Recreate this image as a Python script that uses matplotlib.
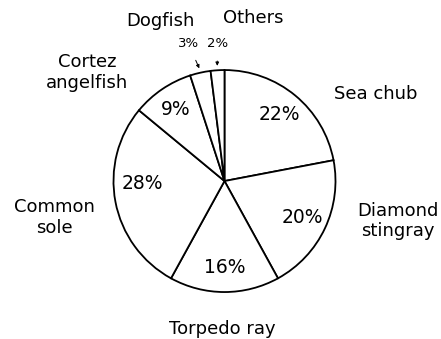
import numpy as np
import matplotlib
matplotlib.use("Agg")
import matplotlib.pyplot as plt

# catch composition, clockwise from 12 o'clock
species = ["Sea chub", "Diamond\nstingray", "Torpedo ray", "Common\nsole",
           "Cortez\nangelfish", "Dogfish", "Others"]
share = [22, 20, 16, 28, 9, 3, 2]

# where the species names go (data units, pie radius = 1)
name_xy = [(1.36, 0.78), (1.56, -0.36), (-0.02, -1.33), (-1.53, -0.33),
           (-1.24, 0.98), (-0.58, 1.44), (0.26, 1.47)]

plt.rcParams['font.family'] = 'DejaVu Sans'
fig = plt.figure(figsize=(4.41, 3.39), dpi=100)
ax = fig.add_axes([0, 0, 1, 1])

wedges, texts, pcts = ax.pie(
    share, startangle=90, counterclock=False, radius=1,
    colors=["white"] * len(share),
    wedgeprops=dict(edgecolor="black", linewidth=1.3),
    autopct="%d%%", pctdistance=0.78,
    textprops=dict(fontsize=13.5, color="black"))

# common sole number sits a bit higher than the wedge middle
pcts[3].set_position((-0.74, -0.02))

# the two thin slices get their numbers outside with little arrows
for i, t in enumerate(pcts):
    if share[i] < 5:
        t.set_text("")
        w = wedges[i]
        mid = np.deg2rad((w.theta1 + w.theta2) / 2)
        tip = (1.04 * np.cos(mid), 1.04 * np.sin(mid))
        txt = (tip[0] - 0.1 * (i == 5), 1.24)
        ax.annotate(f"{share[i]}%", xy=tip, xytext=txt,
                    ha="center", va="center", fontsize=9.5,
                    arrowprops=dict(arrowstyle="-|>", lw=0.7, color="black",
                                    mutation_scale=5, shrinkA=6, shrinkB=0))

for name, (x, y) in zip(species, name_xy):
    ax.text(x, y, name, ha="center", va="center", fontsize=13,
            linespacing=1.2)

ax.set_xlim(-2.022, 1.950)
ax.set_ylim(-1.423, 1.631)
ax.axis("off")

fig.savefig("out.png", dpi=100)
